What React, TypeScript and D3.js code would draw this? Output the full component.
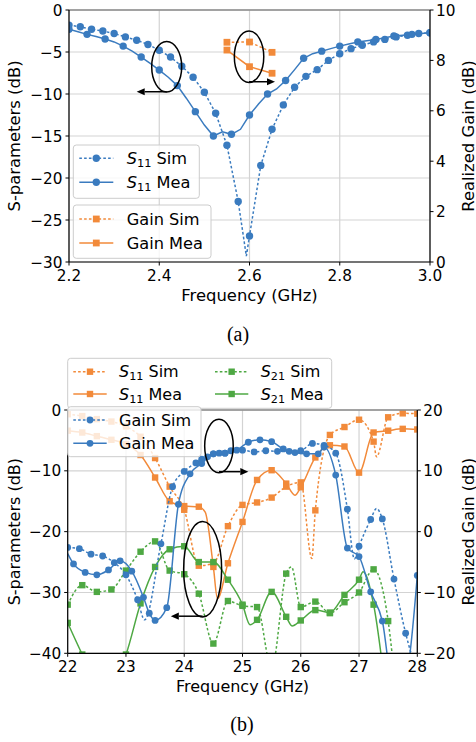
import React from "react";
import * as d3 from "d3";

type Pt = [number, number];

// ---------- (a) 2.2 – 3.0 GHz ----------
const freqTicksA = [2.2, 2.4, 2.6, 2.8, 3.0];
const sTicksA = [0, -5, -10, -15, -20, -25, -30];
const gainTicksA = [0, 2, 4, 6, 8, 10];

// S11 simulated (dB), marker points
const s11SimA: Pt[] = [
  [2.2, -1.8], [2.225, -2.0], [2.25, -2.3], [2.275, -2.5], [2.3, -2.8], [2.325, -3.2],
  [2.35, -3.6], [2.375, -4.1], [2.4, -4.8], [2.425, -5.6], [2.45, -6.7], [2.475, -8.0],
  [2.5, -9.8], [2.525, -12.3], [2.55, -16.1], [2.575, -22.8], [2.6, -26.9], [2.625, -18.5],
  [2.65, -14.2], [2.675, -11.3], [2.7, -9.2], [2.725, -7.9], [2.75, -7.1], [2.775, -6.0],
  [2.8, -5.2], [2.825, -4.6], [2.85, -4.2], [2.875, -3.8], [2.9, -3.5], [2.925, -3.2],
  [2.95, -3.0], [2.975, -2.8], [3.0, -2.7],
];
// line-only point (resonance dip between markers)
const s11SimADip: Pt[] = [[2.593, -29.3]];

// S11 measured (dB), marker points
const s11MeaA: Pt[] = [
  [2.2, -2.3], [2.24, -2.9], [2.28, -3.45], [2.32, -4.3], [2.36, -5.6], [2.4, -7.15],
  [2.44, -9.0], [2.48, -12.1], [2.52, -15.0], [2.56, -14.8], [2.6, -12.5], [2.64, -10.0],
  [2.68, -8.4], [2.72, -5.75], [2.76, -4.9], [2.8, -4.3], [2.84, -3.8], [2.88, -3.5],
  [2.92, -3.1], [2.96, -2.9], [3.0, -2.7],
];
// line-only points between the markers
const s11MeaABetween: Pt[] = [
  [2.22, -2.6], [2.26, -3.15], [2.3, -3.8], [2.34, -4.9], [2.38, -6.35], [2.42, -8.0],
  [2.46, -10.5], [2.5, -13.7], [2.54, -14.5], [2.58, -14.2], [2.62, -11.2], [2.66, -9.4],
  [2.7, -7.1], [2.74, -5.2], [2.78, -4.6], [2.82, -4.05], [2.86, -3.65], [2.9, -3.3],
  [2.94, -3.0], [2.98, -2.8],
];

// realized gain (dB)
const gainSimA: Pt[] = [[2.55, 8.72], [2.6, 8.73], [2.65, 8.32]];
const gainMeaA: Pt[] = [[2.55, 8.41], [2.6, 7.75], [2.65, 7.49]];

// ---------- (b) 22 – 28 GHz ----------
const freqTicksB = [22, 23, 24, 25, 26, 27, 28];
const sTicksB = [0, -10, -20, -30, -40];
const gainTicksB = [20, 10, 0, -10, -20];

const s11SimB: Pt[] = [
  [22.0, -0.7], [22.25, -1.0], [22.5, -1.5], [22.75, -1.9], [23.0, -2.7], [23.25, -4.4],
  [23.5, -7.9], [23.75, -12.6], [24.0, -16.4], [24.25, -25.6], [24.5, -25.2], [24.75, -19.1],
  [25.0, -15.6], [25.25, -15.2], [25.5, -14.4], [25.75, -12.6], [26.0, -11.9], [26.25, -16.5],
  [26.5, -4.1], [26.75, -2.8], [27.0, -1.6], [27.25, -5.2], [27.5, -1.2], [27.75, -0.55],
  [28.0, -0.6],
];
const s11SimBDips: Pt[] = [[26.19, -24.4], [27.3, -7.7]];

const s11MeaB: Pt[] = [
  [22.0, -3.4], [22.25, -3.7], [22.5, -4.3], [22.75, -4.9], [23.0, -5.6], [23.25, -7.4],
  [23.5, -11.1], [23.75, -15.0], [24.0, -15.8], [24.25, -15.9], [24.5, -25.8], [24.75, -25.2],
  [25.0, -18.4], [25.25, -11.5], [25.5, -9.9], [25.75, -12.1], [26.0, -12.7], [26.25, -7.8],
  [26.5, -5.8], [26.75, -6.0], [27.0, -10.3], [27.25, -3.7], [27.5, -3.4], [27.75, -3.1],
  [28.0, -3.2],
];
const s11MeaBDips: Pt[] = [[24.36, -16.8], [24.57, -31.0], [25.9, -14.0]];

const s21SimB: Pt[] = [
  [22.0, -32.0], [22.25, -28.8], [22.5, -29.9], [22.75, -29.5], [23.0, -26.4], [23.25, -23.3],
  [23.5, -21.6], [23.75, -26.4], [24.0, -27.0], [24.25, -30.2], [24.5, -38.4], [24.75, -31.4],
  [25.0, -32.2], [25.25, -32.4], [25.5, -42.5], [25.75, -26.9], [26.0, -32.4], [26.25, -31.5],
  [26.5, -33.4], [26.75, -31.6], [27.0, -30.0], [27.25, -26.2], [27.5, -34.7], [27.75, -60],
];
const s21SimBPeaks: Pt[] = [[25.84, -25.8]];

const s21MeaB: Pt[] = [
  [22.0, -35.0], [22.25, -40.2], [22.5, -45], [22.75, -45], [23.0, -40.2], [23.25, -31.8],
  [23.5, -25.8], [23.75, -22.9], [24.0, -22.4], [24.25, -25.0], [24.5, -25.0], [24.75, -27.9],
  [25.0, -32.0], [25.25, -34.5], [25.5, -29.9], [25.75, -34.0], [26.0, -34.6], [26.25, -32.9],
  [26.5, -33.3], [26.75, -30.4], [27.0, -27.9], [27.25, -32.0], [27.5, -50],
];
const s21MeaBTurns: Pt[] = [[25.13, -35.3], [25.85, -35.5], [27.07, -26.6]];

const gainSimB: Pt[] = [
  [22.0, -2.6], [22.2, -2.8], [22.4, -3.7], [22.6, -4.0], [22.8, -5.1], [23.0, -7.1],
  [23.2, -11.2], [23.6, -2.0], [23.8, 7.4], [24.0, 9.9], [24.2, 11.3], [24.3, 11.9],
  [24.4, 12.3], [24.5, 12.8], [24.6, 12.9], [24.7, 12.9], [24.8, 13.3], [25.0, 13.4],
  [25.2, 13.1], [25.4, 13.3], [25.6, 13.2], [25.8, 13.2], [26.0, 13.3], [26.2, 14.5],
  [26.4, 14.2], [26.6, 12.9], [26.8, 3.7], [27.0, -2.4], [27.2, 2.0], [27.4, 2.1],
  [27.6, -7.8], [27.8, -16.7], [28.0, -23.3],
];
const gainSimBTurns: Pt[] = [[23.32, -14.5], [26.92, -4.5], [27.3, 3.8]];

const gainMeaB: Pt[] = [
  [22.1, -5.3], [22.3, -6.7], [22.5, -7.1], [22.7, -6.3], [22.9, -4.8], [23.1, -6.5],
  [23.3, -10.8], [23.4, -13.4], [23.5, -14.6], [23.7, -12.5], [23.9, 4.5], [24.1, 9.5],
  [24.3, 11.2], [24.5, 12.8], [24.7, 12.9], [24.9, 13.4], [25.1, 14.7], [25.3, 15.1],
  [25.5, 14.8], [25.7, 13.6], [25.9, 13.0], [26.1, 12.8], [26.3, 12.8], [26.4, 13.9],
  [26.6, 9.3], [26.8, -2.7], [27.0, -4.1], [27.2, -9.9], [27.4, -14.7], [27.6, -26.5],
  [27.8, -24.3], [28.0, -7.2],
];
const gainMeaBStart: Pt[] = [[22.0, -3.6]];

// ---------- style ----------
const BLUE = "#3a7bbf";
const ORANGE = "#f28a3a";
const GREEN = "#4ea843";
const GRID = "#d3d3d3";
const FONT = "DejaVu Sans, sans-serif";
const DASH = "2.6 2.2";

const fmt = d3.format("");
const fmt1 = d3.format(".1f");

type Scale = d3.ScaleLinear<number, number>;

function Marker({ cx, cy, shape, size, color }: any) {
  if (shape === "square")
    return <rect x={cx - size / 2} y={cy - size / 2} width={size} height={size} fill={color} />;
  return <circle cx={cx} cy={cy} r={size / 2} fill={color} />;
}

function Curve({ marks, extra = [], x, y, color, dashed, shape, size, smooth, clip }: any) {
  const pts: Pt[] = [...marks, ...extra].sort((a: Pt, b: Pt) => a[0] - b[0]);
  const line = d3
    .line<Pt>()
    .x((d) => x(d[0]))
    .y((d) => y(d[1]))
    .curve(smooth ? d3.curveMonotoneX : d3.curveLinear);
  return (
    <g clipPath={`url(#${clip})`}>
      <path d={line(pts) || ""} fill="none" stroke={color} strokeWidth={1.5}
        strokeDasharray={dashed ? DASH : undefined} />
      {marks.map((d: Pt, i: number) => (
        <Marker key={i} cx={x(d[0])} cy={y(d[1])} shape={shape} size={size} color={color} />
      ))}
    </g>
  );
}

function Label({ x, y, fs, sub, text }: any) {
  if (!sub)
    return <text x={x} y={y} fontSize={fs} fontFamily={FONT}>{text}</text>;
  return (
    <text x={x} y={y} fontSize={fs} fontFamily={FONT}>
      <tspan fontStyle="italic">S</tspan>
      <tspan fontSize={fs * 0.7} dy={fs * 0.18}>{sub}</tspan>
      <tspan dy={-fs * 0.18}>{" " + text}</tspan>
    </text>
  );
}

function LegendItem({ x0, x1, tx, cy, fs, color, dashed, shape, size, sub, text }: any) {
  return (
    <g>
      <line x1={x0} x2={x1} y1={cy} y2={cy} stroke={color} strokeWidth={1.5}
        strokeDasharray={dashed ? DASH : undefined} />
      <Marker cx={(x0 + x1) / 2} cy={cy} shape={shape} size={size} color={color} />
      <Label x={tx} y={cy + fs * 0.36} fs={fs} sub={sub} text={text} />
    </g>
  );
}

function LegendBox({ x, y, w, h }: any) {
  return <rect x={x} y={y} width={w} height={h} rx={3} fill="#fff" fillOpacity={0.8}
    stroke="#cccccc" strokeWidth={1} />;
}

function Callout({ x, y, cf, cv, rf, rv, tipF, arrowV }: any) {
  const cx = x(cf);
  const cy = y(cv);
  const ay = y(arrowV);
  const tx = x(tipF);
  const dir = tx > cx ? 1 : -1;
  const L = 8, Wd = 3.6;
  return (
    <g>
      <ellipse cx={cx} cy={cy} rx={Math.abs(x(cf + rf) - cx)} ry={Math.abs(y(cv - rv) - cy)}
        fill="none" stroke="#000" strokeWidth={1.5} />
      <line x1={cx} x2={tx - dir * L} y1={ay} y2={ay} stroke="#000" strokeWidth={1.5} />
      <path d={`M${tx},${ay} L${tx - dir * L},${ay - Wd} L${tx - dir * L},${ay + Wd} Z`} fill="#000" />
    </g>
  );
}

function Frame({ x, yL, yR, xTicks, lTicks, rTicks, xFmt, box, tfs, afs, xLabelY, id }: any) {
  const { x0, x1, y0, y1 } = box;
  return (
    <g fontFamily={FONT}>
      <defs>
        <clipPath id={id}>
          <rect x={x0} y={y0} width={x1 - x0} height={y1 - y0} />
        </clipPath>
      </defs>
      {xTicks.map((t: number) => (
        <line key={"gx" + t} x1={x(t)} x2={x(t)} y1={y0} y2={y1} stroke={GRID} strokeWidth={1.2} />
      ))}
      {lTicks.map((t: number) => (
        <line key={"gy" + t} x1={x0} x2={x1} y1={yL(t)} y2={yL(t)} stroke={GRID} strokeWidth={1.2} />
      ))}
      {xTicks.map((t: number) => (
        <g key={"tx" + t}>
          <line x1={x(t)} x2={x(t)} y1={y1} y2={y1 + 3.5} stroke="#000" />
          <text x={x(t)} y={y1 + 7 + tfs * 0.76} fontSize={tfs} textAnchor="middle">{xFmt(t)}</text>
        </g>
      ))}
      {lTicks.map((t: number) => (
        <g key={"tl" + t}>
          <line x1={x0 - 3.5} x2={x0} y1={yL(t)} y2={yL(t)} stroke="#000" />
          <text x={x0 - 6.5} y={yL(t) + tfs * 0.36} fontSize={tfs} textAnchor="end">{fmt(t)}</text>
        </g>
      ))}
      {rTicks.map((t: number) => (
        <g key={"tr" + t}>
          <line x1={x1} x2={x1 + 3.5} y1={yR(t)} y2={yR(t)} stroke="#000" />
          <text x={x1 + 6} y={yR(t) + tfs * 0.36} fontSize={tfs} textAnchor="start">{fmt(t)}</text>
        </g>
      ))}
      <text x={(x0 + x1) / 2} y={xLabelY} fontSize={afs} textAnchor="middle">Frequency (GHz)</text>
      <text transform={`translate(20,${(y0 + y1) / 2}) rotate(-90)`} fontSize={afs} textAnchor="middle">
        S-parameters (dB)
      </text>
      <text transform={`translate(473.5,${(y0 + y1) / 2}) rotate(-90)`} fontSize={afs} textAnchor="middle">
        Realized Gain (dB)
      </text>
    </g>
  );
}

function Spines({ box }: any) {
  const { x0, x1, y0, y1 } = box;
  return (
    <g>
      <line x1={x0} x2={x1} y1={y0} y2={y0} stroke="#8a8a8a" strokeWidth={1.5} />
      <line x1={x0} x2={x0} y1={y0} y2={y1} stroke="#000" strokeWidth={1.2} />
      <line x1={x1} x2={x1} y1={y0} y2={y1} stroke="#000" strokeWidth={1.2} />
      <line x1={x0} x2={x1} y1={y1} y2={y1} stroke="#000" strokeWidth={1.2} />
    </g>
  );
}

function PanelA() {
  const box = { x0: 69, x1: 430, y0: 10, y1: 262 };
  const x: Scale = d3.scaleLinear().domain([2.2, 3.0]).range([box.x0, box.x1]);
  const yL: Scale = d3.scaleLinear().domain([-30, 0]).range([box.y1, box.y0]);
  const yR: Scale = d3.scaleLinear().domain([0, 10]).range([box.y1, box.y0]);
  const fs = 16.2;
  return (
    <g>
      <Frame x={x} yL={yL} yR={yR} xTicks={freqTicksA} lTicks={sTicksA} rTicks={gainTicksA}
        xFmt={fmt1} box={box} tfs={15.3} afs={16.4} xLabelY={301} id="clipA" />
      <Curve marks={s11SimA} extra={s11SimADip} x={x} y={yL} color={BLUE} dashed shape="circle" size={7.4} clip="clipA" />
      <Curve marks={s11MeaA} extra={s11MeaABetween} x={x} y={yL} color={BLUE} shape="circle" size={7.4} clip="clipA" />
      <LegendBox x={73.3} y={145} w={126} h={53.3} />
      <LegendItem x0={79.3} x1={113.3} tx={126.7} cy={158.3} fs={fs} color={BLUE} dashed shape="circle" size={7.4} sub="11" text="Sim" />
      <LegendItem x0={79.3} x1={113.3} tx={126.7} cy={182.3} fs={fs} color={BLUE} shape="circle" size={7.4} sub="11" text="Mea" />
      <Curve marks={gainSimA} x={x} y={yR} color={ORANGE} dashed shape="square" size={6.8} clip="clipA" />
      <Curve marks={gainMeaA} x={x} y={yR} color={ORANGE} shape="square" size={6.8} clip="clipA" />
      <LegendBox x={73.3} y={205} w={137.7} h={53.3} />
      <LegendItem x0={79.3} x1={113.3} tx={126.7} cy={219} fs={fs} color={ORANGE} dashed shape="square" size={6.8} text="Gain Sim" />
      <LegendItem x0={79.3} x1={113.3} tx={126.7} cy={243} fs={fs} color={ORANGE} shape="square" size={6.8} text="Gain Mea" />
      <Callout x={x} y={yL} cf={2.4165} cv={-6.75} rf={0.0332} rv={3.0} tipF={2.35} arrowV={-9.73} />
      <Callout x={x} y={yL} cf={2.599} cv={-5.56} rf={0.0326} rv={3.06} tipF={2.6565} arrowV={-8.54} />
      <Spines box={box} />
      <text x={238} y={341} fontSize={20} fontFamily="Liberation Serif, serif" textAnchor="middle">(a)</text>
    </g>
  );
}

function PanelB() {
  const box = { x0: 67.7, x1: 417.3, y0: 410, y1: 653.3 };
  const x: Scale = d3.scaleLinear().domain([22, 28]).range([box.x0, box.x1]);
  const yL: Scale = d3.scaleLinear().domain([-40, 0]).range([box.y1, box.y0]);
  const yR: Scale = d3.scaleLinear().domain([-20, 20]).range([box.y1, box.y0]);
  const fs = 16;
  const ms = 6.4;
  return (
    <g>
      <Frame x={x} yL={yL} yR={yR} xTicks={freqTicksB} lTicks={sTicksB} rTicks={gainTicksB}
        xFmt={fmt} box={box} tfs={15.3} afs={16} xLabelY={692} id="clipB" />
      <Curve marks={s11SimB} extra={s11SimBDips} x={x} y={yL} color={ORANGE} dashed shape="square" size={ms} smooth clip="clipB" />
      <Curve marks={s11MeaB} extra={s11MeaBDips} x={x} y={yL} color={ORANGE} shape="square" size={ms} smooth clip="clipB" />
      <Curve marks={s21SimB} extra={s21SimBPeaks} x={x} y={yL} color={GREEN} dashed shape="square" size={ms} smooth clip="clipB" />
      <Curve marks={s21MeaB} extra={s21MeaBTurns} x={x} y={yL} color={GREEN} shape="square" size={ms} smooth clip="clipB" />
      <LegendBox x={67.7} y={358.3} w={264} h={50} />
      <LegendItem x0={73.3} x1={106.7} tx={119} cy={371.7} fs={fs} color={ORANGE} dashed shape="square" size={ms} sub="11" text="Sim" />
      <LegendItem x0={73.3} x1={106.7} tx={119} cy={394} fs={fs} color={ORANGE} shape="square" size={ms} sub="11" text="Mea" />
      <LegendItem x0={215} x1={248.3} tx={260.7} cy={371.7} fs={fs} color={GREEN} dashed shape="square" size={ms} sub="21" text="Sim" />
      <LegendItem x0={215} x1={248.3} tx={260.7} cy={394} fs={fs} color={GREEN} shape="square" size={ms} sub="21" text="Mea" />
      <Curve marks={gainSimB} extra={gainSimBTurns} x={x} y={yR} color={BLUE} dashed shape="circle" size={6.8} smooth clip="clipB" />
      <Curve marks={gainMeaB} extra={gainMeaBStart} x={x} y={yR} color={BLUE} shape="circle" size={6.8} smooth clip="clipB" />
      <Callout x={x} y={yL} cf={24.596} cv={-5.92} rf={0.245} rv={4.39} tipF={25.1} arrowV={-10.14} />
      <Callout x={x} y={yL} cf={24.316} cv={-26.19} rf={0.326} rv={7.84} tipF={23.77} arrowV={-33.9} />
      <Spines box={box} />
      <LegendBox x={67.7} y={406.7} w={133.3} h={50} />
      <LegendItem x0={73.3} x1={106.7} tx={119} cy={420} fs={fs} color={BLUE} dashed shape="circle" size={6.8} text="Gain Sim" />
      <LegendItem x0={73.3} x1={106.7} tx={119} cy={443.3} fs={fs} color={BLUE} shape="circle" size={6.8} text="Gain Mea" />
      <text x={242} y={731} fontSize={20} fontFamily="Liberation Serif, serif" textAnchor="middle">(b)</text>
    </g>
  );
}

export default function App() {
  return (
    <svg width={476} height={742} style={{ position: "absolute", left: 0, top: 0, background: "#fff" }}>
      <rect width={476} height={742} fill="#fff" />
      <PanelA />
      <PanelB />
    </svg>
  );
}
